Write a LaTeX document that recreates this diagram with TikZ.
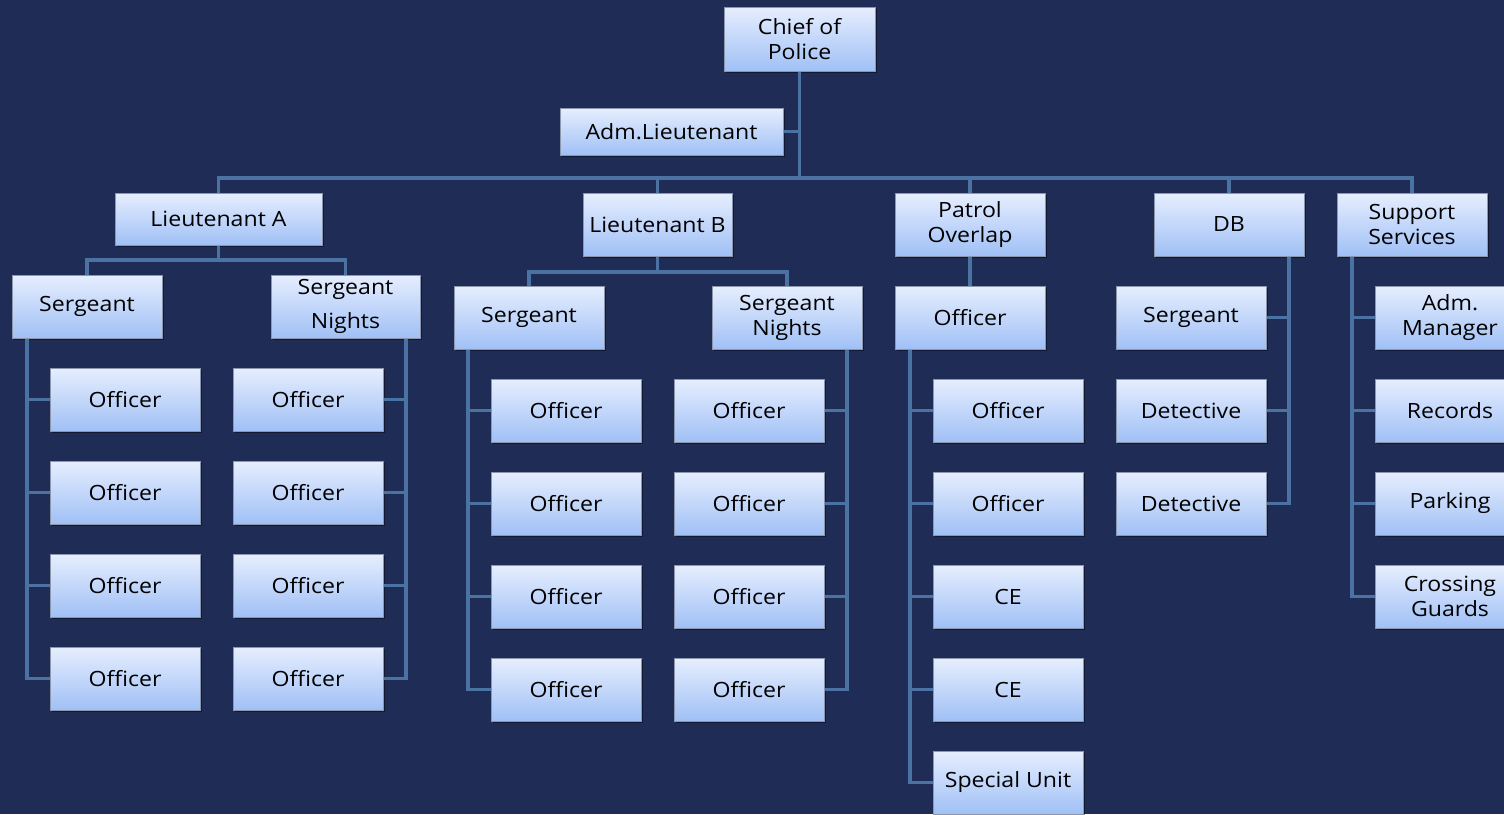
\documentclass[tikz,border=0pt]{standalone}
\usepackage{fontspec}
\setmainfont{Open Sans}[FakeStretch=1.1]
\usetikzlibrary{shadows}
\definecolor{bg}{RGB}{31,44,86}
\definecolor{conn}{RGB}{74,114,162}
\definecolor{btop}{RGB}{230,238,254}
\definecolor{bbot}{RGB}{160,192,246}
\definecolor{bedge}{RGB}{140,150,172}
\tikzset{
  box/.style={draw=bedge, line width=1pt, top color=btop, bottom color=bbot,
    inner sep=0pt, align=center, text=black, font=\fontsize{21}{25}\selectfont,
    drop shadow={shadow xshift=2pt, shadow yshift=-2pt, opacity=0.45, fill=black}},
  wire/.style={draw=conn, line width=3.5pt},
}
\newcommand\bx[6]{\node[box, minimum width=#4pt, minimum height=#5pt] (#1) at (#2,#3) {#6};}
\begin{document}
\begin{tikzpicture}[x=1pt,y=-1pt]
\useasboundingbox (0,0) rectangle (1504,814);
\clip (0,0) rectangle (1504,814);
\fill[bg] (0,0) rectangle (1504,814);
% top
\bx{chief}{799.5}{39}{151}{64}{Chief of\\Police}
\bx{adm}{671.5}{131.5}{223}{47}{Adm.Lieutenant}
\bx{ltA}{218.5}{219}{207}{52}{Lieutenant A}
\bx{ltB}{657.5}{224.5}{149}{63}{Lieutenant B}
\bx{pat}{970}{224.5}{150}{63}{Patrol\\Overlap}
\bx{db}{1229}{224.5}{150}{63}{DB}
\bx{sup}{1412}{224.5}{150}{63}{Support\\Services}
% Lieutenant A
\bx{sgA}{87}{306.5}{150}{63}{Sergeant}
\node[box, minimum width=149pt, minimum height=63pt, font=\fontsize{21}{34}\selectfont] (sgnA) at (345.5,306.5) {Sergeant\\Nights};
\bx{oA1}{125}{399.5}{150}{63}{Officer}
\bx{oA2}{125}{492.5}{150}{63}{Officer}
\bx{oA3}{125}{585.5}{150}{63}{Officer}
\bx{oA4}{125}{678.5}{150}{63}{Officer}
\bx{onA1}{308}{399.5}{150}{63}{Officer}
\bx{onA2}{308}{492.5}{150}{63}{Officer}
\bx{onA3}{308}{585.5}{150}{63}{Officer}
\bx{onA4}{308}{678.5}{150}{63}{Officer}
% Lieutenant B
\bx{sgB}{529}{317.5}{150}{63}{Sergeant}
\bx{sgnB}{787}{317.5}{150}{63}{Sergeant\\Nights}
\bx{oB1}{566}{410.5}{150}{63}{Officer}
\bx{oB2}{566}{503.5}{150}{63}{Officer}
\bx{oB3}{566}{596.5}{150}{63}{Officer}
\bx{oB4}{566}{689.5}{150}{63}{Officer}
\bx{onB1}{749}{410.5}{150}{63}{Officer}
\bx{onB2}{749}{503.5}{150}{63}{Officer}
\bx{onB3}{749}{596.5}{150}{63}{Officer}
\bx{onB4}{749}{689.5}{150}{63}{Officer}
% Patrol overlap
\bx{pof}{970}{317.5}{150}{63}{Officer}
\bx{p1}{1008}{410.5}{150}{63}{Officer}
\bx{p2}{1008}{503.5}{150}{63}{Officer}
\bx{p3}{1008}{596.5}{150}{63}{CE}
\bx{p4}{1008}{689.5}{150}{63}{CE}
\bx{p5}{1008}{782.5}{150}{63}{Special Unit}
% DB
\bx{d1}{1191}{317.5}{150}{63}{Sergeant}
\bx{d2}{1191}{410.5}{150}{63}{Detective}
\bx{d3}{1191}{503.5}{150}{63}{Detective}
% Support
\bx{s1}{1450}{317.5}{150}{63}{Adm.\\Manager}
\bx{s2}{1450}{410.5}{150}{63}{Records}
\bx{s3}{1450}{503.5}{150}{63}{Parking}
\bx{s4}{1450}{596.5}{150}{63}{Crossing\\Guards}
% coordinates
\coordinate (busY) at (0,178);
\coordinate (busA) at (0,260);
\coordinate (busB) at (0,272);
\coordinate (xA) at (27,0);
\coordinate (xnA) at (406,0);
\coordinate (xB) at (468,0);
\coordinate (xnB) at (847,0);
\coordinate (xP) at (910,0);
\coordinate (xD) at (1289,0);
\coordinate (xS) at (1352,0);
% main connectors
\draw[wire] (ltA.north) |- (sup.north |- busY) -- (sup.north);
\draw[wire] (chief.south) -- (chief.south |- busY);
\draw[wire] (adm.east) -- (adm.east -| chief.south);
\foreach \n in {ltB,pat,db} \draw[wire] (\n.north) -- (\n.north |- busY);
% Lieutenant A
\draw[wire] (ltA.south) -- (ltA.south |- busA);
\draw[wire] (sgA.north) |- (sgnA.north |- busA) -- (sgnA.north);
\draw[wire] (xA |- sgA.south) |- (oA4.west);
\foreach \n in {oA1,oA2,oA3} \draw[wire] (\n.west) -- (\n.west -| xA);
\draw[wire] (xnA |- sgnA.south) |- (onA4.east);
\foreach \n in {onA1,onA2,onA3} \draw[wire] (\n.east) -- (\n.east -| xnA);
% Lieutenant B
\draw[wire] (ltB.south) -- (ltB.south |- busB);
\draw[wire] (sgB.north) |- (sgnB.north |- busB) -- (sgnB.north);
\draw[wire] (xB |- sgB.south) |- (oB4.west);
\foreach \n in {oB1,oB2,oB3} \draw[wire] (\n.west) -- (\n.west -| xB);
\draw[wire] (xnB |- sgnB.south) |- (onB4.east);
\foreach \n in {onB1,onB2,onB3} \draw[wire] (\n.east) -- (\n.east -| xnB);
% Patrol
\draw[wire] (pat.south) -- (pof.north);
\draw[wire] (xP |- pof.south) |- (p5.west);
\foreach \n in {p1,p2,p3,p4} \draw[wire] (\n.west) -- (\n.west -| xP);
% DB
\draw[wire] (xD |- db.south) |- (d3.east);
\foreach \n in {d1,d2} \draw[wire] (\n.east) -- (\n.east -| xD);
% Support
\draw[wire] (xS |- sup.south) |- (s4.west);
\foreach \n in {s1,s2,s3} \draw[wire] (\n.west) -- (\n.west -| xS);
\end{tikzpicture}
\end{document}
